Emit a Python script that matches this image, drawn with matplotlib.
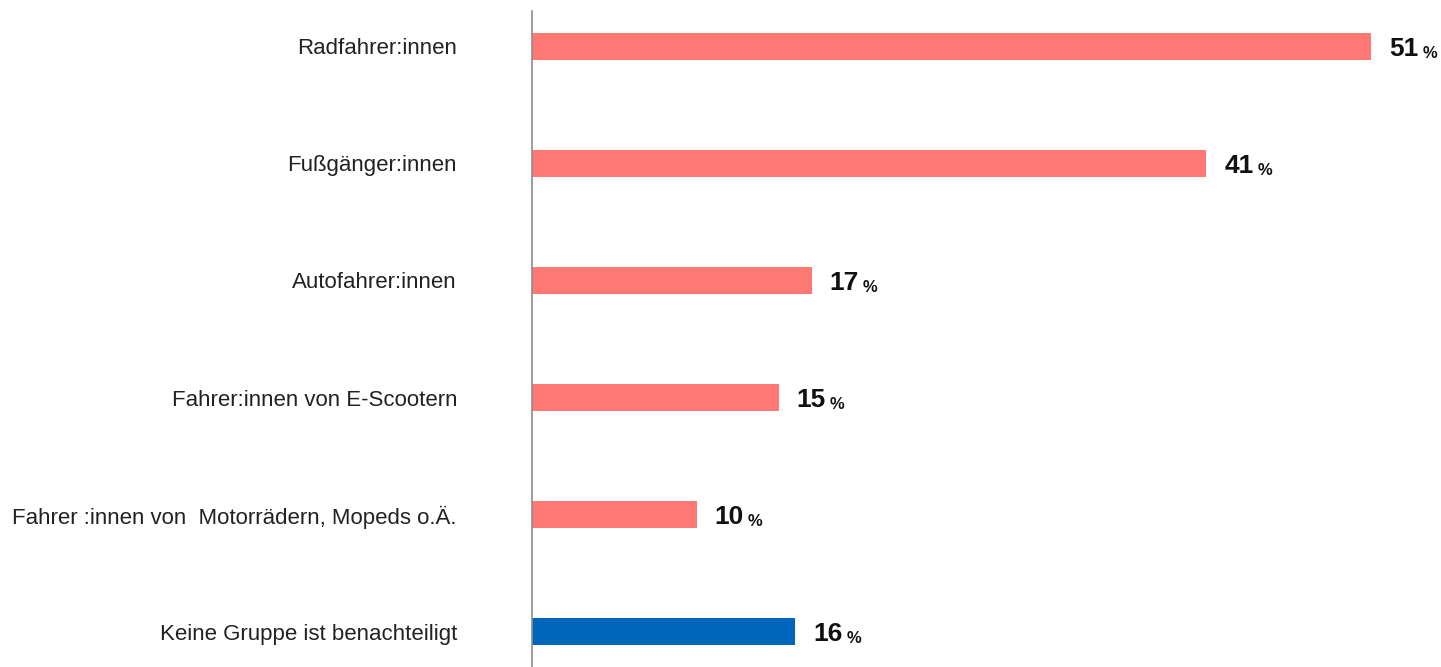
import matplotlib
matplotlib.use('Agg')
import matplotlib.pyplot as plt

plt.rcParams.update({'font.family': ['Liberation Sans', 'DejaVu Sans']})

categories = ['Radfahrer:innen', 'Fußgänger:innen', 'Autofahrer:innen',
              'Fahrer:innen von E-Scootern', 'Fahrer :innen von  Motorrädern, Mopeds o.Ä.',
              'Keine Gruppe ist benachteiligt']
values = [51, 41, 17, 15, 10, 16]
colors = ['#FF7873'] * 5 + ['#0066BB']

W, H = 1441, 667
fig = plt.figure(figsize=(W / 100, H / 100), dpi=100)
ax = fig.add_axes([532 / W, 0, (W - 532) / W, (H - 11) / H])

y = list(range(len(categories)))
ax.barh(y, values, height=0.23, color=colors)
ax.set_xlim(0, (W - 532) / 16.45)
ax.set_ylim(5.303, -0.303)

for s in ['top', 'right', 'bottom']:
    ax.spines[s].set_visible(False)
ax.spines['left'].set_color('#8c8c8c')
ax.spines['left'].set_linewidth(1.2)
ax.set_xticks([])
ax.set_yticks(y)
ax.set_yticklabels(categories, fontsize=16, color='#222222')
ax.tick_params(axis='y', length=0, pad=54)

# value labels: bold number followed by a smaller % sign
nums = []
for yi, v in zip(y, values):
    t = ax.annotate(str(v), (v, yi), xytext=(13, -2), textcoords='offset points',
                    ha='left', va='center', fontsize=19, fontweight='bold', color='#111111')
    nums.append(t)

fig.canvas.draw()
r = fig.canvas.get_renderer()
for n in nums:
    bb = n.get_window_extent(r)
    fig.text((bb.x1 + 4) / W, (bb.y0 + 3) / H, '%', ha='left', va='baseline',
             fontsize=12, fontweight='bold', color='#111111')

plt.savefig('out.png', dpi=100)
